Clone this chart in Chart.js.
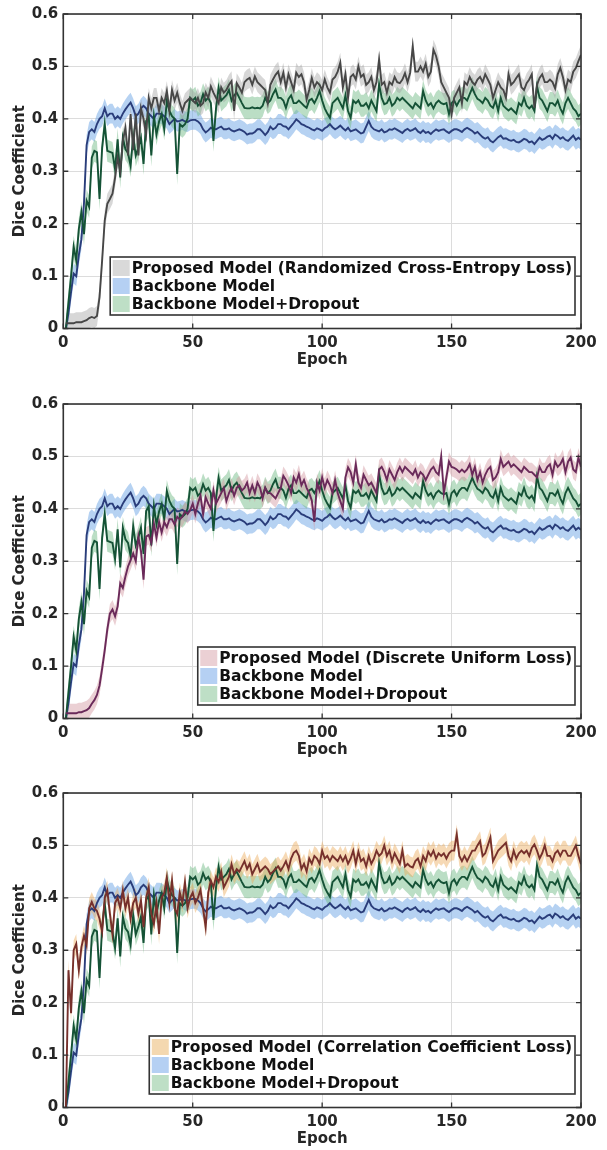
<!DOCTYPE html>
<html><head><meta charset="utf-8">
<script src="https://cdn.jsdelivr.net/npm/chart.js@4/dist/chart.umd.min.js"></script>
<style>
html,body{margin:0;padding:0;background:#fff;}
body{width:607px;height:1150px;position:relative;overflow:hidden;}
canvas{position:absolute;left:0;}
</style></head><body>
<canvas id="c1" width="607" height="370" style="top:0px"></canvas>
<canvas id="c2" width="607" height="370" style="top:390px"></canvas>
<canvas id="c3" width="607" height="370" style="top:779px"></canvas>
<script>
// ---- data (epochs 1..200) ----
const epochs = Array.from({length: 200}, (_, i) => i + 1);
const xTicks = [0, 50, 100, 150, 200];
const yTicks = [0, 0.1, 0.2, 0.3, 0.4, 0.5, 0.6];

const backbone = [
0.000,0.030,0.070,0.105,0.100,0.140,0.170,0.240,0.350,0.375,
0.380,0.375,0.390,0.400,0.405,0.420,0.405,0.410,0.410,0.400,
0.405,0.400,0.410,0.418,0.425,0.431,0.420,0.405,0.410,0.420,
0.425,0.420,0.410,0.405,0.400,0.410,0.410,0.409,0.405,0.400,
0.390,0.395,0.400,0.395,0.396,0.398,0.395,0.394,0.397,0.398,
0.398,0.395,0.390,0.380,0.374,0.378,0.383,0.380,0.380,0.383,
0.385,0.380,0.380,0.382,0.378,0.376,0.378,0.380,0.378,0.375,
0.370,0.372,0.372,0.375,0.380,0.380,0.375,0.369,0.375,0.385,
0.380,0.383,0.390,0.390,0.386,0.385,0.380,0.386,0.392,0.399,
0.395,0.390,0.388,0.385,0.383,0.380,0.378,0.382,0.380,0.377,
0.382,0.385,0.390,0.384,0.380,0.383,0.387,0.382,0.378,0.383,
0.376,0.378,0.380,0.376,0.372,0.374,0.385,0.396,0.385,0.380,
0.378,0.376,0.380,0.374,0.376,0.380,0.379,0.382,0.379,0.376,
0.373,0.378,0.381,0.377,0.379,0.382,0.376,0.373,0.378,0.373,
0.375,0.371,0.376,0.380,0.377,0.379,0.380,0.376,0.373,0.377,
0.380,0.380,0.378,0.375,0.380,0.383,0.380,0.377,0.372,0.375,
0.370,0.365,0.362,0.365,0.358,0.355,0.360,0.365,0.368,0.362,
0.363,0.360,0.358,0.360,0.356,0.355,0.358,0.362,0.360,0.355,
0.357,0.352,0.358,0.364,0.360,0.362,0.366,0.368,0.362,0.370,
0.367,0.362,0.365,0.360,0.358,0.363,0.368,0.360,0.364,0.360];

const backboneDropout = [
0.000,0.050,0.100,0.156,0.130,0.190,0.222,0.180,0.244,0.232,
0.326,0.339,0.336,0.247,0.345,0.390,0.339,0.337,0.335,0.304,
0.361,0.288,0.364,0.342,0.335,0.310,0.367,0.330,0.345,0.364,
0.314,0.396,0.405,0.330,0.405,0.370,0.395,0.409,0.380,0.434,
0.415,0.405,0.400,0.295,0.390,0.385,0.390,0.400,0.440,0.435,
0.440,0.425,0.430,0.447,0.435,0.440,0.430,0.358,0.420,0.459,
0.435,0.440,0.445,0.455,0.435,0.445,0.450,0.440,0.430,0.421,
0.420,0.420,0.422,0.420,0.421,0.420,0.425,0.440,0.430,0.435,
0.447,0.456,0.440,0.440,0.435,0.421,0.438,0.445,0.430,0.430,
0.435,0.430,0.425,0.421,0.435,0.438,0.430,0.440,0.453,0.435,
0.420,0.410,0.402,0.430,0.435,0.440,0.430,0.420,0.445,0.415,
0.402,0.435,0.430,0.435,0.425,0.425,0.430,0.420,0.435,0.425,
0.415,0.466,0.440,0.428,0.430,0.440,0.425,0.430,0.440,0.435,
0.440,0.435,0.430,0.425,0.420,0.430,0.425,0.420,0.453,0.435,
0.425,0.430,0.420,0.430,0.435,0.430,0.428,0.430,0.409,0.430,
0.435,0.425,0.435,0.440,0.440,0.435,0.447,0.459,0.447,0.438,
0.435,0.430,0.440,0.435,0.425,0.421,0.435,0.415,0.440,0.425,
0.420,0.416,0.420,0.415,0.410,0.430,0.425,0.440,0.425,0.420,
0.425,0.415,0.462,0.440,0.435,0.425,0.415,0.430,0.430,0.425,
0.435,0.420,0.410,0.430,0.440,0.430,0.420,0.415,0.405,0.410];

const proposedRCE = [
0.010,0.010,0.010,0.010,0.012,0.012,0.012,0.014,0.016,0.020,
0.022,0.020,0.024,0.060,0.130,0.206,0.238,0.247,0.257,0.288,
0.326,0.300,0.358,0.383,0.330,0.409,0.340,0.410,0.330,0.420,
0.400,0.370,0.440,0.420,0.440,0.440,0.415,0.440,0.430,0.453,
0.415,0.455,0.435,0.450,0.430,0.415,0.430,0.435,0.440,0.435,
0.430,0.440,0.425,0.430,0.450,0.440,0.462,0.450,0.440,0.430,
0.460,0.450,0.455,0.465,0.472,0.415,0.468,0.460,0.450,0.470,
0.475,0.478,0.465,0.481,0.470,0.465,0.460,0.455,0.430,0.465,
0.475,0.484,0.490,0.470,0.488,0.460,0.485,0.470,0.455,0.488,
0.480,0.485,0.470,0.437,0.455,0.478,0.460,0.470,0.465,0.455,
0.475,0.460,0.450,0.475,0.480,0.490,0.507,0.460,0.485,0.440,
0.480,0.485,0.475,0.500,0.480,0.485,0.465,0.470,0.480,0.455,
0.470,0.513,0.465,0.470,0.450,0.470,0.465,0.480,0.470,0.468,
0.475,0.487,0.470,0.488,0.538,0.490,0.490,0.500,0.490,0.505,
0.480,0.490,0.532,0.520,0.500,0.470,0.460,0.450,0.440,0.409,
0.440,0.450,0.460,0.430,0.470,0.465,0.480,0.470,0.465,0.475,
0.480,0.470,0.485,0.475,0.465,0.440,0.455,0.470,0.460,0.455,
0.440,0.485,0.465,0.470,0.478,0.485,0.460,0.455,0.468,0.475,
0.485,0.421,0.465,0.478,0.485,0.470,0.470,0.475,0.470,0.458,
0.485,0.497,0.480,0.455,0.475,0.470,0.490,0.497,0.510,0.522];

const proposedDU = [
0.010,0.010,0.010,0.010,0.010,0.012,0.012,0.014,0.016,0.020,
0.028,0.035,0.045,0.063,0.095,0.130,0.170,0.200,0.208,0.195,
0.214,0.258,0.249,0.271,0.290,0.302,0.315,0.300,0.347,0.320,
0.265,0.347,0.350,0.335,0.372,0.345,0.375,0.355,0.375,0.365,
0.380,0.380,0.370,0.385,0.380,0.385,0.395,0.390,0.397,0.410,
0.390,0.410,0.425,0.390,0.422,0.410,0.400,0.435,0.410,0.420,
0.430,0.440,0.415,0.430,0.440,0.425,0.440,0.445,0.435,0.440,
0.450,0.430,0.445,0.430,0.450,0.440,0.420,0.440,0.430,0.430,
0.425,0.420,0.430,0.440,0.463,0.455,0.445,0.430,0.460,0.450,
0.466,0.445,0.455,0.440,0.430,0.416,0.375,0.450,0.435,0.460,
0.440,0.455,0.445,0.430,0.455,0.430,0.415,0.400,0.460,0.479,
0.470,0.450,0.485,0.450,0.440,0.465,0.455,0.445,0.450,0.440,
0.430,0.475,0.480,0.470,0.455,0.475,0.465,0.455,0.470,0.480,
0.470,0.480,0.475,0.470,0.465,0.475,0.460,0.470,0.465,0.455,
0.465,0.475,0.480,0.470,0.465,0.500,0.430,0.460,0.490,0.480,
0.478,0.475,0.470,0.475,0.470,0.475,0.485,0.465,0.480,0.455,
0.470,0.450,0.465,0.475,0.480,0.455,0.460,0.470,0.495,0.480,
0.485,0.490,0.480,0.485,0.480,0.475,0.470,0.480,0.475,0.470,
0.470,0.465,0.460,0.480,0.470,0.470,0.480,0.485,0.465,0.490,
0.480,0.485,0.495,0.470,0.490,0.498,0.475,0.470,0.498,0.480];

const proposedCC = [
0.000,0.262,0.180,0.300,0.312,0.262,0.306,0.328,0.310,0.380,
0.392,0.380,0.375,0.360,0.335,0.400,0.414,0.370,0.331,0.390,
0.400,0.380,0.414,0.380,0.400,0.360,0.390,0.400,0.370,0.395,
0.344,0.400,0.420,0.370,0.350,0.390,0.331,0.400,0.410,0.439,
0.390,0.433,0.380,0.369,0.410,0.390,0.430,0.380,0.400,0.410,
0.390,0.400,0.415,0.380,0.344,0.410,0.433,0.420,0.440,0.430,
0.450,0.420,0.430,0.440,0.464,0.445,0.455,0.450,0.460,0.470,
0.455,0.465,0.445,0.455,0.465,0.450,0.455,0.460,0.455,0.445,
0.450,0.455,0.460,0.452,0.460,0.470,0.455,0.475,0.486,0.490,
0.480,0.455,0.465,0.450,0.475,0.465,0.480,0.475,0.465,0.490,
0.475,0.480,0.470,0.480,0.475,0.470,0.480,0.470,0.480,0.465,
0.475,0.490,0.465,0.488,0.470,0.475,0.460,0.480,0.465,0.475,
0.490,0.480,0.485,0.500,0.480,0.490,0.470,0.485,0.475,0.465,
0.490,0.460,0.465,0.460,0.458,0.470,0.475,0.460,0.480,0.470,
0.488,0.480,0.490,0.475,0.485,0.480,0.485,0.475,0.485,0.490,
0.490,0.521,0.480,0.470,0.480,0.470,0.480,0.490,0.490,0.500,
0.508,0.480,0.485,0.500,0.515,0.470,0.480,0.490,0.495,0.500,
0.505,0.480,0.470,0.490,0.475,0.485,0.490,0.485,0.490,0.480,
0.495,0.502,0.490,0.475,0.485,0.500,0.480,0.480,0.470,0.485,
0.490,0.480,0.490,0.490,0.480,0.480,0.490,0.500,0.480,0.464];

// half-width of the shaded band around each mean curve
const bandRCE = 0.019, bandDU = 0.018, bandCC = 0.019, bandBackbone = 0.019, bandDropout = 0.021;

const panels = [
  {id: 'c1', proposed: proposedRCE, band: bandRCE, label: 'Proposed Model (Randomized Cross-Entropy Loss)',
   line: '#474747', fill: 'rgba(160,160,160,0.42)', swatch: '#d9d9d9'},
  {id: 'c2', proposed: proposedDU, band: bandDU, label: 'Proposed Model (Discrete Uniform Loss)',
   line: '#6a2a5a', fill: 'rgba(210,150,160,0.45)', swatch: '#ebd0d4'},
  {id: 'c3', proposed: proposedCC, band: bandCC, label: 'Proposed Model (Correlation Coefficient Loss)',
   line: '#76302c', fill: 'rgba(235,170,90,0.45)', swatch: '#f4d8b0'}
];

const FONT = '"DejaVu Sans", "Liberation Sans", sans-serif';

function pts(vals, off) { return vals.map((v, i) => ({x: epochs[i], y: v + off})); }
function series(vals, half, fillColor, lineColor, order) {
  return [
    {data: pts(vals, half), fill: '+1', backgroundColor: fillColor, borderWidth: 0, pointRadius: 0, order: 10 + order},
    {data: pts(vals, -half), fill: false, borderWidth: 0, pointRadius: 0, order: 10 + order},
    {data: pts(vals, 0), fill: false, borderColor: lineColor, borderWidth: 1.9, pointRadius: 0, order: order}
  ];
}

const framePlugin = {
  id: 'frameLegend',
  afterDatasetsDraw(chart) {
    const {ctx, chartArea: a, scales: {x, y}} = chart;
    ctx.save();
    ctx.strokeStyle = '#333';
    ctx.lineWidth = 1.6;
    ctx.strokeRect(a.left, a.top, a.right - a.left, a.bottom - a.top);
    ctx.lineWidth = 1.3;
    ctx.beginPath();
    x.ticks.forEach(t => { const p = x.getPixelForValue(t.value);
      ctx.moveTo(p, a.bottom); ctx.lineTo(p, a.bottom - 5); ctx.moveTo(p, a.top); ctx.lineTo(p, a.top + 5); });
    y.ticks.forEach(t => { const p = y.getPixelForValue(t.value);
      ctx.moveTo(a.left, p); ctx.lineTo(a.left + 5, p); ctx.moveTo(a.right, p); ctx.lineTo(a.right - 5, p); });
    ctx.stroke();
    ctx.restore();
  },
  afterDraw(chart, args, opts) {
    const items = opts.items;
    if (!items) return;
    const {ctx, chartArea: a} = chart;
    ctx.save();
    ctx.font = 'bold 15.5px ' + FONT;
    const tw = Math.max(...items.map(it => ctx.measureText(it.text).width));
    const rowH = 18, sw = 17, sh = 16;
    const w = 2.5 + sw + 2 + tw + 3;
    const h = 2 + rowH * items.length + 2;
    const right = a.right - 6, bottom = a.bottom - 13.5;
    const left = right - w, top = bottom - h;
    ctx.fillStyle = '#fff';
    ctx.fillRect(left, top, w, h);
    items.forEach((it, i) => {
      const cy = top + 2 + rowH * i + rowH / 2;
      ctx.fillStyle = it.swatch;
      ctx.fillRect(left + 2.5, cy - sh / 2, sw, sh);
      ctx.fillStyle = '#111';
      ctx.textBaseline = 'middle';
      ctx.textAlign = 'left';
      ctx.fillText(it.text, left + 2.5 + sw + 2, cy + 1);
    });
    ctx.strokeStyle = '#333';
    ctx.lineWidth = 1.6;
    ctx.strokeRect(left, top, w, h);
    ctx.restore();
  }
};

panels.forEach(p => {
  const datasets = [
    ...series(p.proposed, p.band, p.fill, p.line, 0),
    ...series(backboneDropout, bandDropout, 'rgba(120,190,140,0.5)', '#155236', 1),
    ...series(backbone, bandBackbone, 'rgba(110,165,230,0.5)', '#2a3d7a', 2)
  ];
  new Chart(document.getElementById(p.id), {
    type: 'line',
    data: {datasets},
    plugins: [framePlugin],
    options: {
      responsive: false,
      animation: false,
      devicePixelRatio: 1,
      layout: {padding: {top: 12.7, right: 26, left: 0, bottom: 0}},
      elements: {line: {tension: 0}},
      plugins: {
        legend: {display: false},
        tooltip: {enabled: false},
        frameLegend: {items: [
          {text: p.label, swatch: p.swatch},
          {text: 'Backbone Model', swatch: '#b5d0f3'},
          {text: 'Backbone Model+Dropout', swatch: '#bedfc6'}
        ]}
      },
      scales: {
        x: {
          type: 'linear', min: xTicks[0], max: xTicks[xTicks.length - 1],
          afterBuildTicks: s => { s.ticks = xTicks.map(v => ({value: v})); },
          afterFit: s => { s.height = 41.5; },
          grid: {color: '#dcdcdc', lineWidth: 1, drawTicks: false},
          border: {display: false},
          ticks: {padding: 6, color: '#262626', font: {family: FONT, size: 15, weight: 'bold'}, maxRotation: 0},
          title: {display: true, text: 'Epoch', color: '#262626', padding: {top: 0, bottom: 0.5},
                  font: {family: FONT, size: 15, weight: 'bold'}}
        },
        y: {
          type: 'linear', min: yTicks[0], max: yTicks[yTicks.length - 1],
          afterBuildTicks: s => { s.ticks = yTicks.map(v => ({value: v})); },
          afterFit: s => { s.width = 63.3; },
          grid: {color: '#dcdcdc', lineWidth: 1, drawTicks: false},
          border: {display: false},
          ticks: {padding: 5, color: '#262626', font: {family: FONT, size: 15, weight: 'bold'},
                  callback: v => v === 0 ? '0' : v.toFixed(1)},
          title: {display: true, text: 'Dice Coefficient', color: '#262626', padding: {top: 11, bottom: 0},
                  font: {family: FONT, size: 15, weight: 'bold'}}
        }
      }
    }
  });
});
</script></body></html>
